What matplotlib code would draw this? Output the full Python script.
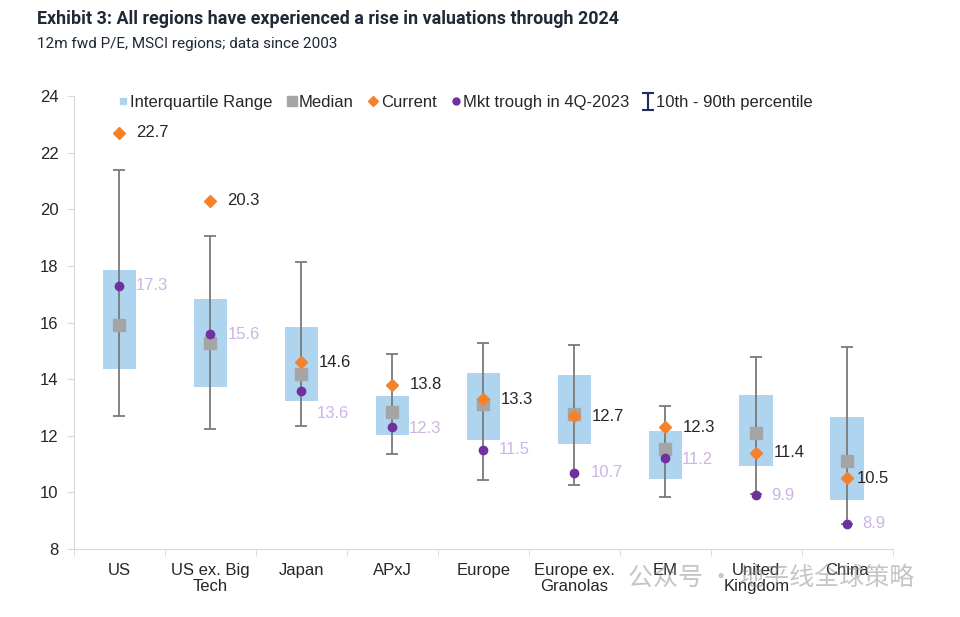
import numpy as np
import matplotlib
matplotlib.use('Agg')
import matplotlib.pyplot as plt
from matplotlib.lines import Line2D

plt.rcParams['font.family'] = ['Liberation Sans', 'DejaVu Sans']

# Data (12m fwd P/E, MSCI regions)
regions = ['US', 'US ex. Big\nTech', 'Japan', 'APxJ', 'Europe',
           'Europe ex.\nGranolas', 'EM', 'United\nKingdom', 'China']
p10 = [12.7, 12.25, 12.33, 11.35, 10.45, 10.27, 9.85, 9.93, 8.9]
q1 = [14.35, 13.74, 13.23, 12.03, 11.85, 11.72, 10.47, 10.93, 9.73]
median = [15.93, 15.28, 14.2, 12.84, 13.12, 12.77, 11.53, 12.1, 11.1]
q3 = [17.87, 16.84, 15.86, 13.42, 14.23, 14.15, 12.18, 13.44, 12.66]
p90 = [21.37, 19.05, 18.13, 14.9, 15.27, 15.2, 13.05, 14.78, 15.12]
current = [22.7, 20.3, 14.6, 13.8, 13.3, 12.7, 12.3, 11.4, 10.5]
trough = [17.3, 15.6, 13.6, 12.3, 11.5, 10.7, 11.2, 9.9, 8.9]

# label offsets in pixels (dx, dy) -- positioning only
cur_off = [(17, 0)] * 8 + [(9, 0)]
tr_off = [(16, 0), (17, -1), (15, -23), (16, -1), (15, 0), (16, 0), (16, -1), (15, 0), (15, 0)]

c_box = '#aed4f0'
c_med = '#a5a5a5'
c_cur = '#f5822a'
c_tr = '#7030a0'
c_trlab = '#cdb3e8'
c_wh = '#7a7a7a'
c_txt = '#262626'

fig = plt.figure(figsize=(9.6, 6.17), dpi=100)
ax = fig.add_axes([0.077, 0.110, 0.853, 0.7345])

x = np.arange(len(regions))
q1a, q3a, meda = np.array(q1), np.array(q3), np.array(median)

ax.bar(x, q3a - q1a, bottom=q1a, width=0.37, color=c_box, zorder=1)
ax.errorbar(x, meda, yerr=[meda - np.array(p10), np.array(p90) - meda],
            fmt='none', ecolor=c_wh, elinewidth=1.3, capsize=4.5, capthick=1.3, zorder=2)
ax.plot(x, median, 's', color=c_med, markersize=9, zorder=3)
ax.plot(x, trough, 'o', color=c_tr, markersize=6, zorder=4)
ax.plot(x, current, 'D', color=c_cur, markersize=6.5, zorder=5)

for i in range(len(regions)):
    ax.annotate(f'{current[i]:.1f}', (x[i], current[i]), xytext=cur_off[i],
                textcoords='offset pixels', va='center', ha='left',
                fontsize=12, color=c_txt)
    ax.annotate(f'{trough[i]:.1f}', (x[i], trough[i]), xytext=tr_off[i],
                textcoords='offset pixels', va='center', ha='left',
                fontsize=12, color=c_trlab)

ax.set_ylim(8, 24)
ax.set_yticks(np.arange(8, 25, 2))
ax.set_xlim(-0.5, len(regions) - 0.5)
ax.set_xticks(x)
ax.set_xticklabels(regions, fontsize=12, color=c_txt, linespacing=1.05)
ax.set_xticks(np.arange(-0.5, len(regions), 1), minor=True)
ax.tick_params(axis='x', which='major', length=0, pad=10)
ax.tick_params(axis='x', which='minor', length=5, color='#d9d9d9')
ax.tick_params(axis='y', length=5, color='#d9d9d9', labelsize=12, labelcolor=c_txt, pad=6)
for s in ['top', 'right']:
    ax.spines[s].set_visible(False)
for s in ['left', 'bottom']:
    ax.spines[s].set_color('#d9d9d9')

# legend
pct = ax.errorbar([np.nan], [np.nan], yerr=[[1], [1]], fmt='none',
                  ecolor='#1f2d5c', elinewidth=1.5, capsize=4, capthick=1.5)
handles = [
    Line2D([], [], marker='s', ls='none', color=c_box, markersize=4.5),
    Line2D([], [], marker='s', ls='none', color=c_med, markersize=7),
    Line2D([], [], marker='D', ls='none', color=c_cur, markersize=5),
    Line2D([], [], marker='o', ls='none', color=c_tr, markersize=5),
    pct,
]
labels = ['Interquartile Range', 'Median', 'Current', 'Mkt trough in 4Q-2023',
          '10th - 90th percentile']
ax.legend(handles, labels, loc='upper left', bbox_to_anchor=(0.035, 1.035), ncol=5,
          frameon=False, fontsize=12, handlelength=0.6, handletextpad=0.15,
          columnspacing=0.85, labelcolor=c_txt)

fig.text(0.039, 0.969, 'Exhibit 3: All regions have experienced a rise in valuations through 2024',
         fontsize=12.9, fontweight='bold', color='#1f2937', family=['Roboto', 'DejaVu Sans'],
         va='center')
fig.text(0.039, 0.928, '12m fwd P/E, MSCI regions; data since 2003',
         fontsize=11, color='#1f2937', family=['Roboto', 'DejaVu Sans'], va='center')

# WeChat watermark
fig.text(0.654, 0.063, '公众号 · 地平线全球策略', fontsize=18, color='#8c8c8c', alpha=0.5,
         family=['Noto Sans CJK SC', 'DejaVu Sans'], va='center', zorder=10)

fig.savefig('out.png', dpi=100)
